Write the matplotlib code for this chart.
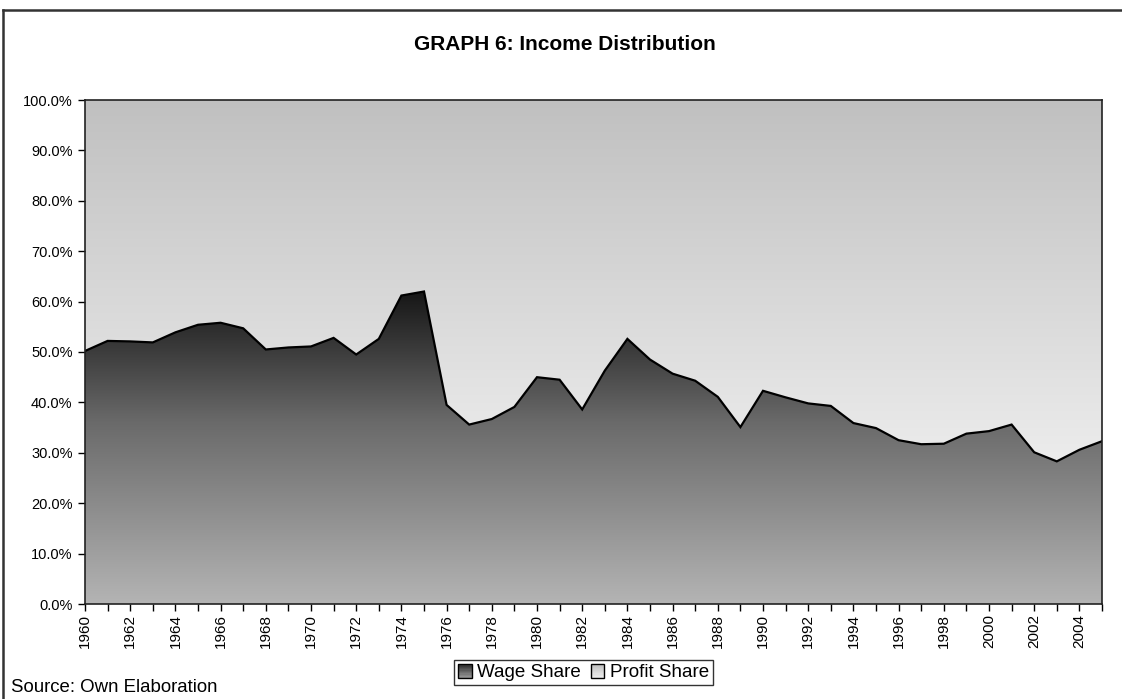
import numpy as np
import matplotlib
matplotlib.use("Agg")
import matplotlib.pyplot as plt
from matplotlib.patches import Rectangle
from matplotlib.lines import Line2D
from matplotlib.legend_handler import HandlerBase
from matplotlib.ticker import FuncFormatter, MultipleLocator

plt.rcParams['font.family'] = ['Liberation Sans', 'DejaVu Sans']

years = list(range(1960, 2006))
wage_share = [50.2, 52.2, 52.1, 51.9, 53.9, 55.4, 55.8, 54.7, 50.5, 50.9,
              51.1, 52.8, 49.5, 52.6, 61.2, 62.0, 39.5, 35.6, 36.7, 39.1,
              45.0, 44.5, 38.6, 46.3, 52.6, 48.5, 45.7, 44.3, 41.1, 35.1,
              42.3, 41.0, 39.8, 39.3, 35.9, 34.9, 32.5, 31.7, 31.8, 33.8,
              34.3, 35.6, 30.1, 28.3, 30.6, 32.3]
profit_share = [100.0 - w for w in wage_share]
series_names = ["Wage Share", "Profit Share"]
title = "GRAPH 6: Income Distribution"
source = "Source: Own Elaboration"

x = np.array(years, dtype=float)
w = np.array(wage_share) / 100.0
p = np.array(profit_share) / 100.0
top = w + p

fig = plt.figure(figsize=(11.22, 6.99), dpi=100)
ax = fig.add_axes([85/1122, 1 - 604/699, (1102-85)/1122, (604-100)/699])


def gradient_fill(ax, x, y0, y1, stops_y, stops_c):
    poly = ax.fill_between(x, y0, y1, facecolor='none', edgecolor='none')
    ylo, yhi = min(y0.min(), y1.min()), max(y0.max(), y1.max())
    yy = np.linspace(yhi, ylo, 400)
    g = np.interp(yy, stops_y, stops_c) / 255.0
    img = np.repeat(g[:, None], 2, axis=1)
    rgb = np.dstack([img, img, img])
    im = ax.imshow(rgb, extent=[x.min(), x.max(), ylo, yhi], aspect='auto',
                   interpolation='bilinear', zorder=1)
    path = poly.get_paths()[0]
    im.set_clip_path(path, transform=ax.transData)
    return im

# wage share gradient (dark top -> light bottom)
gradient_fill(ax, x, np.zeros_like(w), w,
              [0.0, 0.36, 0.62], [180, 106, 22])
# profit share gradient (mid gray top -> light near bottom)
gradient_fill(ax, x, w, top,
              [w.min(), 1.0], [236, 192])

ax.plot(x, w, color='black', lw=1.6, zorder=3, solid_joinstyle='miter')

ax.set_xlim(1960, 2005)
ax.set_ylim(0, 1.0)
ax.yaxis.set_major_locator(MultipleLocator(0.1))
ax.yaxis.set_major_formatter(FuncFormatter(lambda v, _: f"{v*100:.1f}%"))
ax.set_xticks(years)
ax.set_xticklabels([str(yv) if (yv - 1960) % 2 == 0 else "" for yv in years],
                   rotation=90)
ax.tick_params(axis='both', direction='out', length=5, width=1,
               color='black')
ax.tick_params(axis='y', labelsize=10.5, pad=4)
ax.tick_params(axis='x', labelsize=11, pad=2)
for s in ax.spines.values():
    s.set_linewidth(1.2)
    s.set_color('#222222')
    s.set_zorder(5)

fig.text(565/1122, 1 - 44/699, title, ha='center', va='center',
         fontsize=15, fontweight='bold')
fig.text(11/1122, 1 - 688/699, source, ha='left', va='center', fontsize=13.4)


class GradientHandler(HandlerBase):
    def __init__(self, c_top, c_bot, **kw):
        super().__init__(**kw)
        self.c_top, self.c_bot = c_top, c_bot

    def create_artists(self, legend, orig_handle, xdescent, ydescent,
                       width, height, fontsize, trans):
        side = min(width, height)
        x0 = xdescent * -1 + (width - side) / 2
        y0 = -ydescent
        arts = []
        n = 10
        for i in range(n):
            g = (self.c_bot + (self.c_top - self.c_bot) * (i + 0.5) / n) / 255.0
            arts.append(Rectangle((x0, y0 + side * i / n), side, side / n,
                                  facecolor=(g, g, g), edgecolor='none',
                                  transform=trans))
        arts.append(Rectangle((x0, y0), side, side, facecolor='none',
                              edgecolor='black', lw=1.0, transform=trans))
        return arts


h_wage = Rectangle((0, 0), 1, 1)
h_profit = Rectangle((0, 0), 1, 1)
leg = fig.legend([h_wage, h_profit], series_names, loc='center',
                 bbox_to_anchor=(583.5/1122, 1 - 672.5/699), ncol=2,
                 fontsize=13.5, frameon=True, fancybox=False,
                 handlelength=0.75, handleheight=0.75, handletextpad=0.3,
                 columnspacing=0.5, borderpad=0.22, borderaxespad=0,
                 handler_map={h_wage: GradientHandler(40, 150),
                              h_profit: GradientHandler(190, 235)})
leg.get_frame().set_edgecolor('black')
leg.get_frame().set_linewidth(1.0)

# outer chart frame (top and left edges visible)
fig.add_artist(Line2D([3/1122, 1.0], [1 - 10/699, 1 - 10/699],
                      transform=fig.transFigure, color='#333333', lw=1.8))
fig.add_artist(Line2D([3/1122, 3/1122], [0.0, 1 - 10/699],
                      transform=fig.transFigure, color='#333333', lw=1.8))

fig.savefig("out.png", dpi=100)
